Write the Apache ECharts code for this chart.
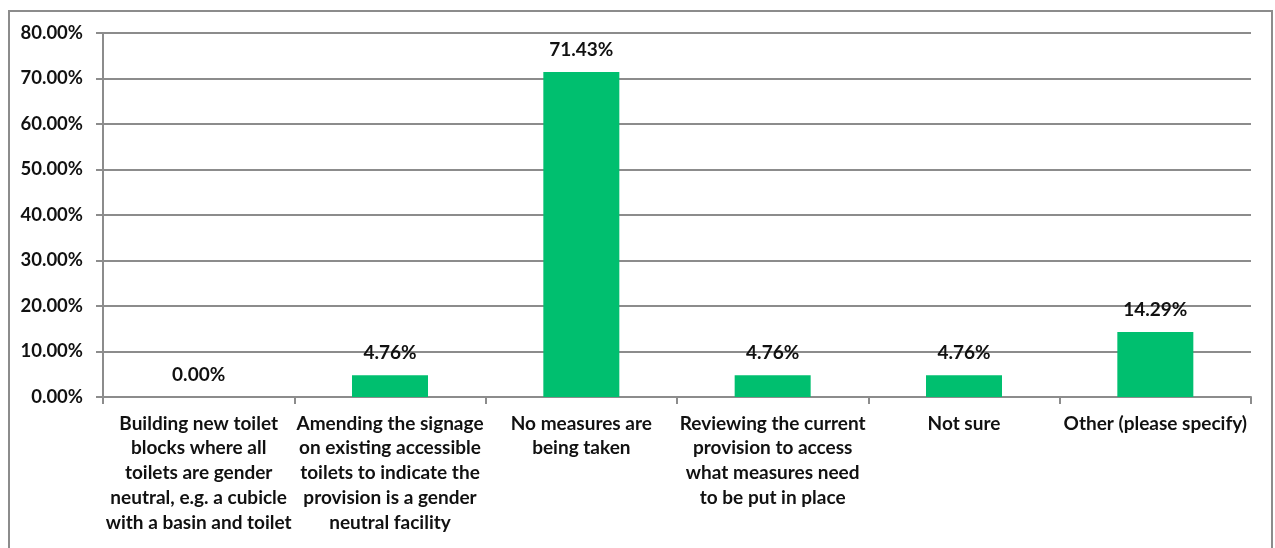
<!DOCTYPE html>
<html>
<head>
<meta charset="utf-8">
<script src="https://cdn.jsdelivr.net/npm/echarts@6/dist/echarts.min.js"></script>
<style>
html,body{margin:0;padding:0;background:#fff;}
#c{width:1275px;height:548px;}
</style>
</head>
<body>
<div id="c"></div>
<script>
const categories = [
  "Building new toilet\nblocks where all\ntoilets are gender\nneutral, e.g. a cubicle\nwith a basin and toilet",
  "Amending the signage\non existing accessible\ntoilets to indicate the\nprovision is a gender\nneutral facility",
  "No measures are\nbeing taken",
  "Reviewing the current\nprovision to access\nwhat measures need\nto be put in place",
  "Not sure",
  "Other (please specify)"
];
const values = [0.00, 4.76, 71.43, 4.76, 4.76, 14.29];
const yMin = 0, yMax = 80, yStep = 10;

const font = 'Lato, "Open Sans", sans-serif';
const chart = echarts.init(document.getElementById('c'));
chart.setOption({
  animation: false,
  graphic: [{
    type: 'rect',
    shape: {x: 9, y: 11, width: 1263, height: 600},
    style: {fill: 'none', stroke: '#8c8c8c', lineWidth: 2},
    silent: true
  }],
  grid: {left: 103, right: 24, top: 33, bottom: 151, containLabel: false},
  xAxis: {
    type: 'category',
    data: categories,
    boundaryGap: true,
    axisLine: {lineStyle: {color: '#8c8c8c', width: 2}},
    axisTick: {show: true, alignWithLabel: false, length: 7, lineStyle: {color: '#8c8c8c', width: 2}},
    axisLabel: {
      interval: 0, color: '#111', fontFamily: font, fontWeight: 'bold',
      fontSize: 19, lineHeight: 24.75, margin: 14
    }
  },
  yAxis: {
    type: 'value',
    min: yMin, max: yMax, interval: yStep,
    axisLine: {show: true, lineStyle: {color: '#8c8c8c', width: 2}},
    axisTick: {show: true, length: 7, lineStyle: {color: '#8c8c8c', width: 2}},
    splitLine: {lineStyle: {color: '#8c8c8c', width: 2}},
    axisLabel: {
      color: '#111', fontFamily: font, fontWeight: 'bold', fontSize: 18.5, margin: 20,
      formatter: v => v.toFixed(2) + '%'
    }
  },
  series: [{
    type: 'bar',
    data: values,
    barWidth: 76,
    itemStyle: {color: '#00BF6F'},
    label: {
      show: true, position: 'top', distance: 13,
      color: '#111', fontFamily: font, fontWeight: 'bold', fontSize: 19,
      formatter: p => p.value.toFixed(2) + '%'
    }
  }]
});
</script>
</body>
</html>
